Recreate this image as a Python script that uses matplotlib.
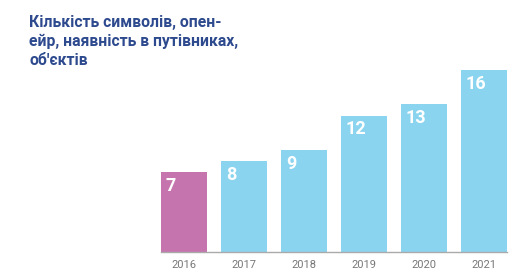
import matplotlib
matplotlib.use("Agg")
import matplotlib.pyplot as plt
from matplotlib.transforms import ScaledTranslation

years = ["2016", "2017", "2018", "2019", "2020", "2021"]
values = [7, 8, 9, 12, 13, 16]
colors = ["#c574ae", "#8ad4ef", "#8ad4ef", "#8ad4ef", "#8ad4ef", "#8ad4ef"]
title = "Кількість символів, опен-\nейр, наявність в путівниках,\nоб'єктів"

plt.rcParams['font.family'] = ['Roboto', 'DejaVu Sans']

fig = plt.figure(figsize=(5.2, 2.8), dpi=100)
ax = fig.add_axes([161/520, 28/280, 346/520, 182/280])
width = 0.77
x = list(range(len(years)))
ax.bar(x, values, width=width, color=colors)
ax.set_xlim(-width/2, len(years) - 1 + width/2)
ax.set_ylim(0, 16)
ax.set_xticks(x)
ax.set_xticklabels(years, color="#777777", fontsize=8)
ax.tick_params(axis='x', length=0, pad=6)
ax.set_yticks([])
for s in ["top", "right", "left"]:
    ax.spines[s].set_visible(False)
ax.spines["bottom"].set_color("#aaaaaa")
ax.spines["bottom"].set_linewidth(1)

for xi, v in zip(x, values):
    off = ScaledTranslation(5/100, -5/100, fig.dpi_scale_trans)
    ax.text(xi - width/2, v, str(v), transform=ax.transData + off,
            ha="left", va="top", color="white", fontsize=13, fontweight="bold")

fig.text(29/520, 1 - 15/280, title, ha="left", va="top", color="#2d4a8e",
         fontsize=11.3, fontweight="bold", linespacing=1.33)

fig.savefig("out.png", dpi=100)
